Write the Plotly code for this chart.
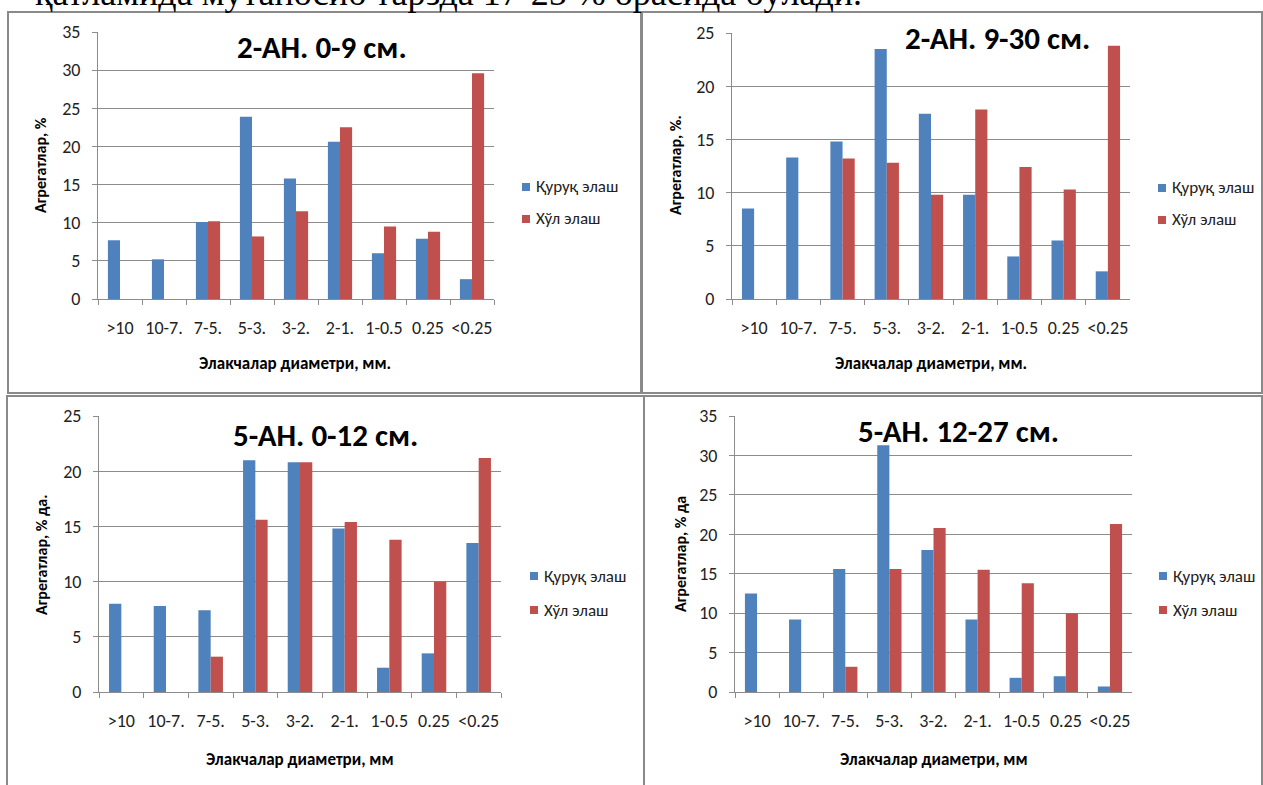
import plotly.graph_objects as go

W, H = 1263, 785

# Sieve fraction classes (mm)
categories = [">10", "10-7.", "7-5.", "5-3.", "3-2.", "2-1.", "1-0.5", "0.25", "<0.25"]

# Dry sieving ("Қуруқ элаш") and wet sieving ("Хўл элаш"), % of aggregates
dry_2an_0_9 = [7.7, 5.2, 10.1, 23.9, 15.8, 20.6, 6.0, 7.9, 2.6]
wet_2an_0_9 = [0, 0, 10.2, 8.2, 11.5, 22.5, 9.5, 8.8, 29.6]

dry_2an_9_30 = [8.5, 13.3, 14.8, 23.5, 17.4, 9.8, 4.0, 5.5, 2.6]
wet_2an_9_30 = [0, 0, 13.2, 12.8, 9.8, 17.8, 12.4, 10.3, 23.8]

dry_5an_0_12 = [8.0, 7.8, 7.4, 21.0, 20.8, 14.8, 2.2, 3.5, 13.5]
wet_5an_0_12 = [0, 0, 3.2, 15.6, 20.8, 15.4, 13.8, 10.0, 21.2]

dry_5an_12_27 = [12.5, 9.2, 15.6, 31.3, 18.0, 9.2, 1.8, 2.0, 0.7]
wet_5an_12_27 = [0, 0, 3.2, 15.6, 20.8, 15.5, 13.8, 10.0, 21.3]

series_names = ["Қуруқ элаш", "Хўл элаш"]
titles = ["2-АН. 0-9 см.", "2-АН. 9-30 см.", "5-АН. 0-12 см.", "5-АН. 12-27 см."]
y_titles = ["Агрегатлар, %", "Агрегатлар, %.", "Агрегатлар, % да.", "Агрегатлар, % да"]
x_titles = ["Элакчалар диаметри, мм.", "Элакчалар диаметри, мм.",
            "Элакчалар диаметри, мм", "Элакчалар диаметри, мм"]
y_max = [35, 25, 25, 35]

BLUE = "#4F81BD"
RED = "#C0504D"
GRID = "#8C8C8C"
FONT = "Carlito, 'Liberation Sans Narrow', Roboto, sans-serif"


def px(x):
    return x / W


def py(y):
    return 1 - y / H


# Plot areas of the four charts in pixels: (left, top, right, bottom)
areas = [(98, 32, 494, 299), (732, 33, 1130, 299),
         (99, 416, 501, 692), (735, 416, 1132, 692)]
# Outer frames around each chart
frames = [(8, 12, 641, 393), (642, 12, 1262, 393),
          (7, 396, 644, 800), (644, 396, 1262, 800)]
title_pos = [(322, 47), (997, 38), (325, 435), (958, 431)]
ytitle_pos = [(41, 165), (676, 165), (41, 555), (680, 554)]
xtitle_pos = [(295, 363), (931, 363), (300, 759), (934, 759)]
legend_pos = [(522, 187, 219), (1158, 188, 220), (530, 576, 610), (1159, 576, 610)]

data = [(dry_2an_0_9, wet_2an_0_9), (dry_2an_9_30, wet_2an_9_30),
        (dry_5an_0_12, wet_5an_0_12), (dry_5an_12_27, wet_5an_12_27)]

fig = go.Figure()
shapes = []
annotations = []

for i, (dry, wet) in enumerate(data):
    n = "" if i == 0 else str(i + 1)
    for name, vals, col in zip(series_names, (dry, wet), (BLUE, RED)):
        fig.add_trace(go.Bar(
            x=categories, y=vals, name=name, marker=dict(color=col, line=dict(width=0)),
            xaxis="x" + n, yaxis="y" + n, showlegend=False,
        ))
    l, t, r, b = areas[i]
    fig.update_layout(**{
        "xaxis" + n: dict(
            domain=[px(l), px(r)], anchor="y" + n, type="category",
            categoryorder="array", categoryarray=categories,
            tickson="boundaries", ticks="outside", ticklen=5, tickcolor=GRID,
            showline=True, linecolor=GRID, linewidth=1, showgrid=False,
            tickangle=0, tickfont=dict(family=FONT, size=18, color="#222"),
            ticklabelstandoff=12, fixedrange=True, automargin=False,
        ),
        "yaxis" + n: dict(
            domain=[py(b), py(t)], anchor="x" + n, range=[0, y_max[i]], dtick=5,
            showgrid=True, gridcolor=GRID, gridwidth=1, zeroline=False,
            ticks="outside", ticklen=5, tickcolor=GRID,
            showline=True, linecolor=GRID, linewidth=1,
            tickfont=dict(family=FONT, size=18, color="#222"),
            ticklabelstandoff=8, fixedrange=True, automargin=False,
        ),
    })

    fl, ft, fr, fb = frames[i]
    shapes.append(dict(type="rect", xref="paper", yref="paper",
                       x0=px(fl), x1=px(fr), y0=py(fb), y1=py(ft),
                       line=dict(color="#8A8A8A", width=2), layer="below"))

    tx, ty = title_pos[i]
    annotations.append(dict(text="<b>" + titles[i] + "</b>", x=px(tx), y=py(ty),
                            xref="paper", yref="paper", showarrow=False,
                            xanchor="center", yanchor="middle",
                            font=dict(family=FONT, size=31, color="#000")))
    yx, yy = ytitle_pos[i]
    annotations.append(dict(text="<b>" + y_titles[i] + "</b>", x=px(yx), y=py(yy),
                            xref="paper", yref="paper", showarrow=False, textangle=-90,
                            xanchor="center", yanchor="middle",
                            font=dict(family=FONT, size=16, color="#000")))
    xx, xy = xtitle_pos[i]
    annotations.append(dict(text="<b>" + x_titles[i] + "</b>", x=px(xx), y=py(xy),
                            xref="paper", yref="paper", showarrow=False,
                            xanchor="center", yanchor="middle",
                            font=dict(family=FONT, size=17, color="#000")))

    # Legend: colour swatch and label for each series
    lx, ly1, ly2 = legend_pos[i]
    for name, col, ly in zip(series_names, (BLUE, RED), (ly1, ly2)):
        shapes.append(dict(type="rect", xref="paper", yref="paper",
                           x0=px(lx), x1=px(lx + 8), y0=py(ly + 4), y1=py(ly - 4),
                           fillcolor=col, line=dict(width=0)))
        annotations.append(dict(text=name, x=px(lx + 12), y=py(ly),
                                xref="paper", yref="paper", showarrow=False,
                                xanchor="left", yanchor="middle",
                                font=dict(family=FONT, size=17, color="#222")))

# Line of running document text above the charts (its upper part runs off the page)
annotations.append(dict(text="қатламида мутаносиб тарзда 17-25 % орасида бўлади.",
                        x=px(33), y=py(15), xref="paper", yref="paper",
                        showarrow=False, xanchor="left", yanchor="bottom",
                        font=dict(family="'Liberation Serif', serif", size=36, color="#000")))

fig.update_layout(
    template="none",
    width=W, height=H, margin=dict(l=0, r=0, t=0, b=0, autoexpand=False),
    paper_bgcolor="white", plot_bgcolor="white",
    barmode="group", bargap=0.45, bargroupgap=0,
    showlegend=False, shapes=shapes, annotations=annotations,
)

fig.write_html(
    "out.html",
    post_script="document.body.style.margin='0';document.body.style.overflow='hidden';",
)
